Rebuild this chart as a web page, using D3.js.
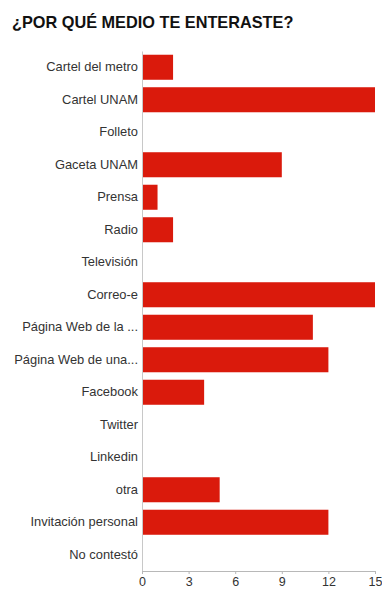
<!DOCTYPE html>
<html>
<head>
<meta charset="utf-8">
<script src="https://cdn.jsdelivr.net/npm/d3@7"></script>
<style>
  html, body { margin: 0; padding: 0; background: #fff; }
  svg { display: block; }
</style>
</head>
<body>
<svg id="chart" width="382" height="589"></svg>
<script>
// Survey answers: how respondents found out about the event
const categories = [
  "Cartel del metro", "Cartel UNAM", "Folleto", "Gaceta UNAM", "Prensa", "Radio",
  "Televisión", "Correo-e", "Página Web de la ...", "Página Web de una...",
  "Facebook", "Twitter", "Linkedin", "otra", "Invitación personal", "No contestó"
];
const counts = [2, 15, 0, 9, 1, 2, 0, 15, 11, 12, 4, 0, 0, 5, 12, 0];
const tickValues = [0, 3, 6, 9, 12, 15];
const title = "¿POR QUÉ MEDIO TE ENTERASTE?";

const svg = d3.select("#chart");
const font = "'Liberation Sans', Arial, Helvetica, sans-serif";

const plotLeft = 142, plotRight = 375, plotTop = 51, plotBottom = 571;

const x = d3.scaleLinear().domain([0, 15]).range([plotLeft, plotRight]);
const y = d3.scaleBand().domain(categories).range([plotTop, plotBottom])
  .paddingInner(0.23).paddingOuter(0.115);

svg.append("text")
  .attr("x", 12).attr("y", 28)
  .attr("font-family", font).attr("font-weight", "bold").attr("font-size", 16.3)
  .attr("fill", "#111")
  .text(title);

// bars
svg.append("g").selectAll("rect")
  .data(categories.map((c, i) => ({ c, v: counts[i] })))
  .join("rect")
  .attr("x", x(0))
  .attr("y", d => y(d.c))
  .attr("width", d => x(d.v) - x(0))
  .attr("height", y.bandwidth())
  .attr("fill", "#da1a0c");

// category axis
const yAxis = svg.append("g")
  .attr("transform", `translate(${plotLeft},0)`)
  .call(d3.axisLeft(y).tickSize(0).tickPadding(4));
yAxis.select(".domain").attr("stroke", "#c8c8c8");
yAxis.selectAll("text")
  .attr("font-family", font).attr("font-size", 12.9).attr("fill", "#333");

// value axis
const xAxis = svg.append("g")
  .attr("transform", `translate(0,${plotBottom})`)
  .call(d3.axisBottom(x).tickValues(tickValues).tickSize(3).tickSizeOuter(0).tickPadding(3));
xAxis.select(".domain").attr("stroke", "#b8b8b8");
xAxis.selectAll(".tick line").attr("stroke", "#b8b8b8");
xAxis.selectAll("text")
  .attr("font-family", font).attr("font-size", 12.5).attr("fill", "#333");
</script>
</body>
</html>
